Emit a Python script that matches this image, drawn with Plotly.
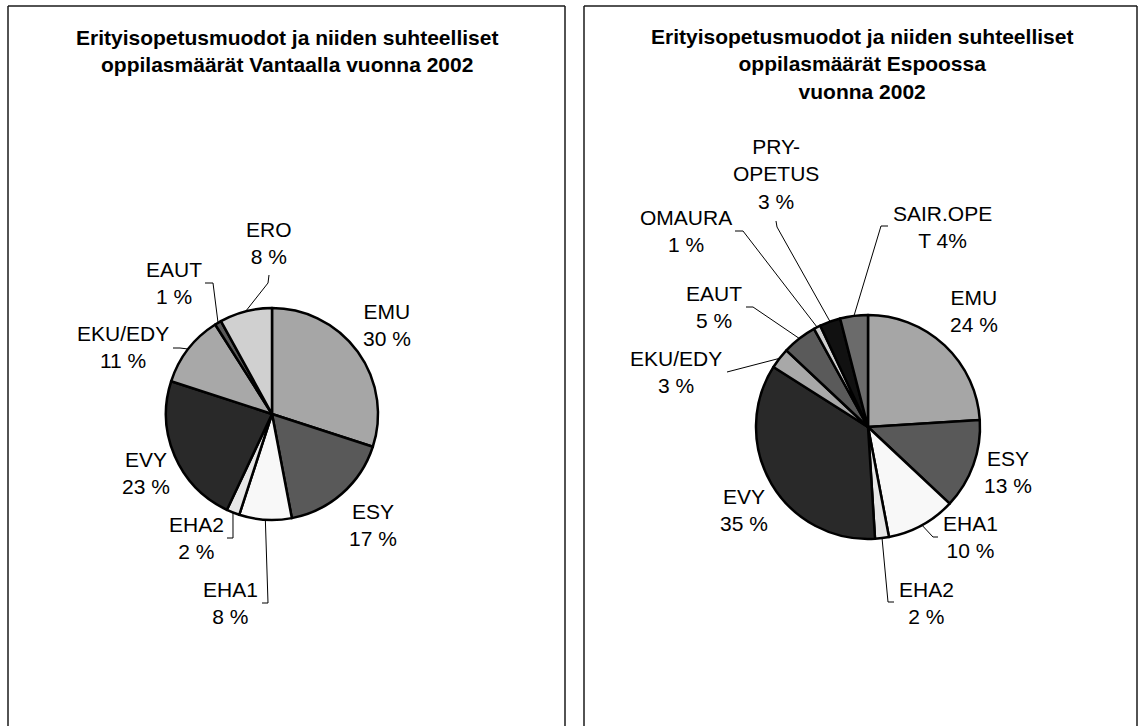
import math
import plotly.graph_objects as go

W, H = 1144, 726

# ---------------- data ----------------
van_categories = ["EMU", "ESY", "EHA1", "EHA2", "EVY", "EKU/EDY", "EAUT", "ERO"]
van_values = [30, 17, 8, 2, 23, 11, 1, 8]

esp_categories = ["EMU", "ESY", "EHA1", "EHA2", "EVY", "EKU/EDY", "EAUT",
                  "OMAURA", "PRY-OPETUS", "SAIR.OPET"]
esp_values = [24, 13, 10, 2, 35, 3, 5, 1, 3, 4]

van_title = "Erityisopetusmuodot ja niiden suhteelliset<br>oppilasmäärät Vantaalla vuonna 2002"
esp_title = "Erityisopetusmuodot ja niiden suhteelliset<br>oppilasmäärät Espoossa<br>vuonna 2002"

# ---------------- styles / layout ----------------
FONT = "Liberation Sans, Arial, sans-serif"
colors = {
    "EMU": "#A6A6A6", "ESY": "#595959", "EHA1": "#F8F8F8", "EHA2": "#E6E6E6",
    "EVY": "#292929", "EKU/EDY": "#A8A8A8", "EAUT": "#5A5A5A", "ERO": "#D0D0D0",
    "OMAURA": "#D0D0D0", "PRY-OPETUS": "#111111", "SAIR.OPET": "#6B6B6B",
}
label_fmt = {
    "PRY-OPETUS": "PRY-<br>OPETUS<br>{p} %",
    "SAIR.OPET": "SAIR.OPE<br>T {p}%",
}

panels = [
    dict(cats=van_categories, vals=van_values, title=van_title,
         center=(272, 414), r=106, frame=(8, 565), title_pos=(287, 51),
         labels={"EMU": (387, 325), "ESY": (373, 525), "EHA1": (230, 603),
                 "EHA2": (196, 538), "EVY": (146, 473), "EKU/EDY": (123, 347),
                 "EAUT": (174, 283), "ERO": (269, 243)},
         leaders={"ERO": [(269, 275), (268, 283)],
                  "EAUT": [(205, 283), (213, 283)],
                  "EKU/EDY": [(173, 348), (180, 348)],
                  "EHA2": [(227, 538), (233, 538)],
                  "EHA1": [(262, 603), (268, 603)]}),
    dict(cats=esp_categories, vals=esp_values, title=esp_title,
         center=(868, 427), r=112, frame=(584, 1137), title_pos=(862, 64),
         labels={"EMU": (974, 311), "ESY": (1008, 472), "EHA1": (970, 537),
                 "EHA2": (926, 603), "EVY": (744, 510), "EKU/EDY": (676, 372),
                 "EAUT": (714, 307), "OMAURA": (686, 231),
                 "PRY-OPETUS": (776, 174), "SAIR.OPET": (942, 227)},
         leaders={"OMAURA": [(735, 231), (743, 231)],
                  "PRY-OPETUS": [(776, 221), (777, 227)],
                  "SAIR.OPET": [(888, 226), (881, 226)],
                  "EAUT": [(746, 307), (753, 307)],
                  "EKU/EDY": [(727, 372)],
                  "EHA1": [(938, 537), (933, 537)],
                  "EHA2": [(894, 602), (888, 602)]}),
]


def px(x, y):
    return x / W, 1 - y / H


fig = go.Figure()
annotations = []
shapes = []

for p in panels:
    cx, cy = p["center"]
    r = p["r"]
    fig.add_trace(go.Pie(
        labels=p["cats"], values=p["vals"], sort=False, direction="clockwise",
        rotation=0,
        marker=dict(colors=[colors[c] for c in p["cats"]],
                    line=dict(color="black", width=2.5)),
        textinfo="none", hoverinfo="label+percent", showlegend=False,
        domain=dict(x=[(cx - r) / W, (cx + r) / W],
                    y=[1 - (cy + r) / H, 1 - (cy - r) / H]),
    ))
    total = sum(p["vals"])
    cum = 0
    for cat, v in zip(p["cats"], p["vals"]):
        pct = round(v / total * 100)
        txt = label_fmt.get(cat, "{n}<br>{p} %").format(n=cat, p=pct)
        lx, ly = p["labels"][cat]
        ax_, ay_ = px(lx, ly)
        annotations.append(dict(
            text=txt, x=ax_, y=ay_, xref="paper", yref="paper",
            xanchor="center", yanchor="middle", showarrow=False, align="center",
            font=dict(family=FONT, size=21, color="black")))
        ang = 2 * math.pi * (cum + v / 2) / total
        ex, ey = cx + r * math.sin(ang), cy - r * math.cos(ang)
        if cat in p["leaders"]:
            pts = p["leaders"][cat] + [(ex, ey)]
            for (x0, y0), (x1, y1) in zip(pts[:-1], pts[1:]):
                a0, b0 = px(x0, y0)
                a1, b1 = px(x1, y1)
                shapes.append(dict(type="line", xref="paper", yref="paper",
                                   x0=a0, y0=b0, x1=a1, y1=b1,
                                   line=dict(color="black", width=1)))
        cum += v
    tx, ty = p["title_pos"]
    a, b = px(tx, ty)
    annotations.append(dict(
        text="<b>" + p["title"] + "</b>", x=a, y=b, xref="paper", yref="paper",
        xanchor="center", yanchor="middle", showarrow=False, align="center",
        font=dict(family=FONT, size=21, color="black")))
    fx0, fx1 = p["frame"]
    for (x0, y0, x1, y1) in [(fx0, 6, fx1, 6), (fx0, 6, fx0, 740), (fx1, 6, fx1, 740)]:
        a0, b0 = px(x0, y0)
        a1, b1 = px(x1, y1)
        shapes.append(dict(type="line", xref="paper", yref="paper",
                           x0=a0, y0=b0, x1=a1, y1=b1,
                           line=dict(color="#1a1a1a", width=1.5)))

fig.update_layout(
    width=W, height=H, margin=dict(l=0, r=0, t=0, b=0),
    paper_bgcolor="white", plot_bgcolor="white",
    annotations=annotations, shapes=shapes,
    font=dict(family=FONT, color="black"),
)
fig.write_html("out.html")
